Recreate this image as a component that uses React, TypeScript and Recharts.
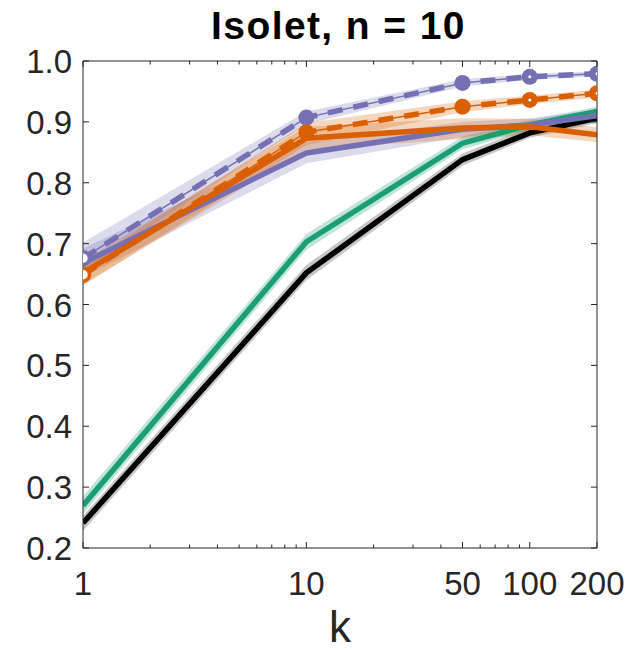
import React from 'react';
import { ComposedChart, Line, Area, XAxis, YAxis } from 'recharts';

// k values (log axis)
const kValues = [1, 10, 50, 100, 200];

// series means
const purpleDashed = [0.676, 0.907, 0.964, 0.974, 0.979];
const orangeDashed = [0.649, 0.883, 0.925, 0.936, 0.947];
const purpleSolid = [0.668, 0.849, 0.888, 0.895, 0.91];
const orangeSolid = [0.652, 0.873, 0.89, 0.892, 0.879];
const greenSolid = [0.27, 0.703, 0.865, 0.895, 0.917];
const blackSolid = [0.241, 0.652, 0.838, 0.882, 0.906];

// shaded band bounds
const purpleDashedLo = [0.656, 0.896, 0.958, 0.969, 0.975];
const purpleDashedHi = [0.702, 0.917, 0.97, 0.979, 0.983];
const orangeDashedLo = [0.632, 0.862, 0.916, 0.929, 0.94];
const orangeDashedHi = [0.666, 0.898, 0.934, 0.943, 0.953];
const purpleSolidLo = [0.645, 0.832, 0.875, 0.884, 0.9];
const purpleSolidHi = [0.692, 0.866, 0.9, 0.906, 0.92];
const orangeSolidLo = [0.632, 0.855, 0.872, 0.878, 0.867];
const orangeSolidHi = [0.672, 0.892, 0.906, 0.905, 0.891];
const greenLo = [0.256, 0.69, 0.855, 0.887, 0.91];
const greenHi = [0.285, 0.716, 0.876, 0.903, 0.925];
const blackLo = [0.228, 0.64, 0.828, 0.874, 0.898];
const blackHi = [0.253, 0.665, 0.848, 0.891, 0.915];

// axis ticks
const xMajorTicks = [1, 10, 50, 100, 200];
const xAllTicks = [1, 2, 3, 4, 5, 6, 7, 8, 9, 10, 20, 30, 40, 50, 60, 70, 80, 90, 100, 200];
const yTicks = [0.2, 0.3, 0.4, 0.5, 0.6, 0.7, 0.8, 0.9, 1.0];

const PURPLE = '#7570b3';
const ORANGE = '#d95f02';
const GREEN = '#1b9e77';
const BLACK = '#000000';
const AXIS = '#262626';
const FONT = '"Liberation Sans", Arial, Helvetica, sans-serif';

const data = kValues.map((k, i) => ({
  k,
  pd: purpleDashed[i],
  od: orangeDashed[i],
  ps: purpleSolid[i],
  os: orangeSolid[i],
  g: greenSolid[i],
  b: blackSolid[i],
  pdBand: [purpleDashedLo[i], purpleDashedHi[i]],
  odBand: [orangeDashedLo[i], orangeDashedHi[i]],
  psBand: [purpleSolidLo[i], purpleSolidHi[i]],
  osBand: [orangeSolidLo[i], orangeSolidHi[i]],
  gBand: [greenLo[i], greenHi[i]],
  bBand: [blackLo[i], blackHi[i]],
}));

const BottomTick = ({ x, y, payload }: any) => {
  const major = xMajorTicks.includes(payload.value);
  return (
    <g>
      <line x1={x} x2={x} y1={y} y2={y - (major ? 6 : 3.5)} stroke={AXIS} strokeWidth={1} />
      {major && (
        <text x={x} y={y + 47} textAnchor="middle" fontSize={33} fill={AXIS} fontFamily={FONT}>
          {payload.value}
        </text>
      )}
    </g>
  );
};

const TopTick = ({ x, y, payload }: any) => {
  const major = xMajorTicks.includes(payload.value);
  return <line x1={x} x2={x} y1={y} y2={y + (major ? 6 : 3.5)} stroke={AXIS} strokeWidth={1} />;
};

const LeftTick = ({ x, y, payload }: any) => (
  <g>
    <line x1={x} x2={x + 6} y1={y} y2={y} stroke={AXIS} strokeWidth={1} />
    <text x={x - 11} y={y + 12} textAnchor="end" fontSize={33} fill={AXIS} fontFamily={FONT}>
      {payload.value.toFixed(1)}
    </text>
  </g>
);

const RightTick = ({ x, y }: any) => (
  <line x1={x} x2={x - 6} y1={y} y2={y} stroke={AXIS} strokeWidth={1} />
);

const makeDot = (color: string) => (props: any) => {
  const { cx, cy, index } = props;
  if (cx == null || cy == null) return <g key={index} />;
  if (index === 0) {
    return <circle key={index} cx={cx} cy={cy} r={6.5} fill="#fff" stroke={color} strokeWidth={3.5} />;
  }
  return (
    <g key={index}>
      <circle cx={cx} cy={cy} r={8} fill={color} />
      {index >= 3 && <circle cx={cx} cy={cy} r={1.5} fill="#fff" />}
    </g>
  );
};

const TitleLabel = ({ viewBox }: any) => (
  <text
    x={338.5}
    y={viewBox.y - 21.5}
    textAnchor="middle"
    fontSize={39}
    fontWeight="bold"
    letterSpacing={1.4}
    fill="#000"
    fontFamily={FONT}
  >
    Isolet, n = 10
  </text>
);

const KLabel = ({ viewBox }: any) => (
  <text x={viewBox.x + viewBox.width / 2} y={viewBox.y + 94} textAnchor="middle" fontSize={44} fill={AXIS} fontFamily={FONT}>
    k
  </text>
);

export default function App() {
  return (
    <div style={{ position: 'absolute', left: 0, top: 0, background: '#fff' }}>
      <ComposedChart width={626} height={650} data={data} margin={{ top: 60, right: 0, bottom: 0, left: 0 }}>
        <XAxis
          dataKey="k"
          type="number"
          scale="log"
          domain={[1, 200]}
          allowDataOverflow
          ticks={xAllTicks}
          interval={0}
          tick={<BottomTick />}
          tickLine={false}
          tickSize={0}
          tickMargin={0}
          height={102}
          axisLine={{ stroke: AXIS, strokeWidth: 1 }}
          label={<KLabel />}
        />
        <XAxis
          xAxisId="top"
          orientation="top"
          dataKey="k"
          type="number"
          scale="log"
          domain={[1, 200]}
          allowDataOverflow
          ticks={xAllTicks}
          interval={0}
          tick={<TopTick />}
          tickLine={false}
          tickSize={0}
          tickMargin={0}
          height={1}
          axisLine={{ stroke: AXIS, strokeWidth: 1 }}
          label={<TitleLabel />}
        />
        <YAxis
          type="number"
          domain={[0.2, 1]}
          allowDataOverflow
          ticks={yTicks}
          interval={0}
          tick={<LeftTick />}
          tickLine={false}
          tickSize={0}
          tickMargin={0}
          width={83}
          axisLine={{ stroke: AXIS, strokeWidth: 1 }}
        />
        <YAxis
          yAxisId="right"
          orientation="right"
          type="number"
          domain={[0.2, 1]}
          allowDataOverflow
          ticks={yTicks}
          interval={0}
          tick={<RightTick />}
          tickLine={false}
          tickSize={0}
          tickMargin={0}
          width={29}
          axisLine={{ stroke: AXIS, strokeWidth: 1 }}
        />

        {/* shaded bands */}
        <Area type="linear" dataKey="gBand" stroke="none" fill={GREEN} fillOpacity={0.28} isAnimationActive={false} />
        <Area type="linear" dataKey="bBand" stroke="none" fill={BLACK} fillOpacity={0.22} isAnimationActive={false} />
        <Area type="linear" dataKey="psBand" stroke="none" fill={PURPLE} fillOpacity={0.25} isAnimationActive={false} />
        <Area type="linear" dataKey="osBand" stroke="none" fill={ORANGE} fillOpacity={0.25} isAnimationActive={false} />
        <Area type="linear" dataKey="pdBand" stroke="none" fill={PURPLE} fillOpacity={0.25} isAnimationActive={false} />
        <Area type="linear" dataKey="odBand" stroke="none" fill={ORANGE} fillOpacity={0.25} isAnimationActive={false} />

        {/* solid lines */}
        <Line type="linear" dataKey="g" stroke={GREEN} strokeWidth={5.5} dot={false} isAnimationActive={false} />
        <Line type="linear" dataKey="b" stroke={BLACK} strokeWidth={5.5} dot={false} isAnimationActive={false} />
        <Line type="linear" dataKey="ps" stroke={PURPLE} strokeWidth={5.5} dot={false} isAnimationActive={false} />
        <Line type="linear" dataKey="os" stroke={ORANGE} strokeWidth={5.5} dot={false} isAnimationActive={false} />

        {/* dashed lines: thin solid core plus thick dashes */}
        <Line type="linear" dataKey="pd" stroke={PURPLE} strokeWidth={1.5} dot={false} isAnimationActive={false} />
        <Line type="linear" dataKey="pd" stroke={PURPLE} strokeWidth={5.5} strokeDasharray="15 11" dot={makeDot(PURPLE)} isAnimationActive={false} />
        <Line type="linear" dataKey="od" stroke={ORANGE} strokeWidth={1.5} dot={false} isAnimationActive={false} />
        <Line type="linear" dataKey="od" stroke={ORANGE} strokeWidth={5.5} strokeDasharray="15 11" dot={makeDot(ORANGE)} isAnimationActive={false} />
      </ComposedChart>
    </div>
  );
}
